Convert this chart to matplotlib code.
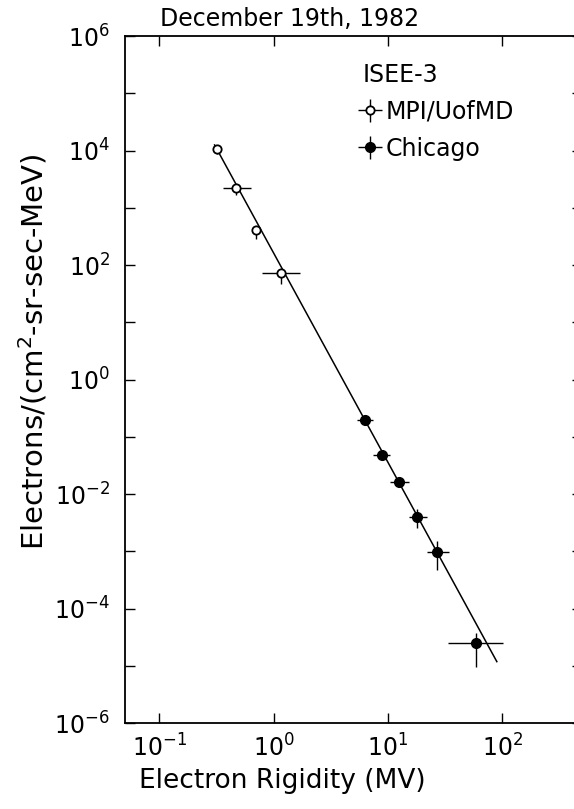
import numpy as np
import matplotlib
matplotlib.use("Agg")
import matplotlib.pyplot as plt

# MPI/UofMD (open symbols)
mpi_x = [0.318, 0.471, 0.695, 1.15]
mpi_y = [1.06e4, 2.19e3, 408, 71.6]
mpi_xlo = [0.30, 0.359, 0.66, 0.79]
mpi_xhi = [0.335, 0.628, 0.73, 1.71]
mpi_ylo = [8.8e3, 1.67e3, 281, 46.5]
mpi_yhi = [1.25e4, 2.3e3, 420, 74]

# Chicago (filled symbols)
chi_x = [6.28, 8.81, 12.6, 18.1, 27.1, 58.8]
chi_y = [0.20, 0.048, 0.0164, 0.0039, 9.8e-4, 2.5e-5]
chi_xlo = [5.37, 7.35, 10.4, 15.2, 21.8, 33.8]
chi_xhi = [7.33, 10.4, 15.4, 21.8, 34.3, 101]
chi_ylo = [0.19, 0.045, 0.0155, 0.0025, 4.8e-4, 9.5e-6]
chi_yhi = [0.21, 0.051, 0.0173, 0.0055, 1.5e-3, 3.7e-5]

# power-law fit endpoints
fit_x = [0.304, 89.8]
fit_y = [1.25e4, 1.18e-5]

fig = plt.figure(figsize=(5.74, 8.09), dpi=100)
ax = fig.add_axes([0.2178, 0.1063, 0.7962, 0.8492])

ax.plot(fit_x, fit_y, color="black", lw=1.1, zorder=2)

def errs(v, lo, hi):
    v = np.array(v)
    return [v - np.array(lo), np.array(hi) - v]

h1 = ax.errorbar(mpi_x, mpi_y, xerr=errs(mpi_x, mpi_xlo, mpi_xhi),
                 yerr=errs(mpi_y, mpi_ylo, mpi_yhi), fmt="o", ms=6,
                 mfc="white", mec="black", mew=1.3, ecolor="black",
                 elinewidth=1.0, capsize=0, zorder=3)
h2 = ax.errorbar(chi_x, chi_y, xerr=errs(chi_x, chi_xlo, chi_xhi),
                 yerr=errs(chi_y, chi_ylo, chi_yhi), fmt="o", ms=7,
                 mfc="black", mec="black", ecolor="black",
                 elinewidth=1.0, capsize=0, zorder=3)

ax.set_xscale("log")
ax.set_yscale("log")
ax.set_xlim(0.05, 500)
ax.set_ylim(1e-6, 1e6)

ax.set_xticks([0.1, 1, 10, 100])
ax.set_xticklabels(["$10^{-1}$", "$10^{0}$", "$10^{1}$", "$10^{2}$"])
ax.xaxis.set_minor_locator(matplotlib.ticker.NullLocator())
yt = [10.0 ** p for p in range(-6, 7)]
ax.set_yticks(yt)
ax.set_yticklabels(["$10^{%d}$" % p if p % 2 == 0 else "" for p in range(-6, 7)])
ax.yaxis.set_minor_locator(matplotlib.ticker.NullLocator())

ax.tick_params(which="major", direction="in", length=7, width=1.0,
               top=True, right=True, labelsize=17)
ax.tick_params(axis="y", pad=11)
ax.tick_params(axis="x", pad=8)
for s in ax.spines.values():
    s.set_linewidth(1.3)

ax.set_xlabel("Electron Rigidity (MV)", fontsize=19, labelpad=5, x=0.345)
ax.set_ylabel("Electrons/(cm$^2$-sr-sec-MeV)", fontsize=21, labelpad=3, y=0.54)
ax.set_title("December 19th, 1982", fontsize=17, pad=7, x=0.36)

leg = ax.legend([h1, h2], ["MPI/UofMD", "Chicago"], title="ISEE-3",
                loc="upper left", bbox_to_anchor=(0.5, 0.975),
                frameon=False, fontsize=17, title_fontsize=17,
                handlelength=0.6, handletextpad=0.35, labelspacing=0.55,
                alignment="left", borderaxespad=0)

plt.savefig("out.png", dpi=100)
